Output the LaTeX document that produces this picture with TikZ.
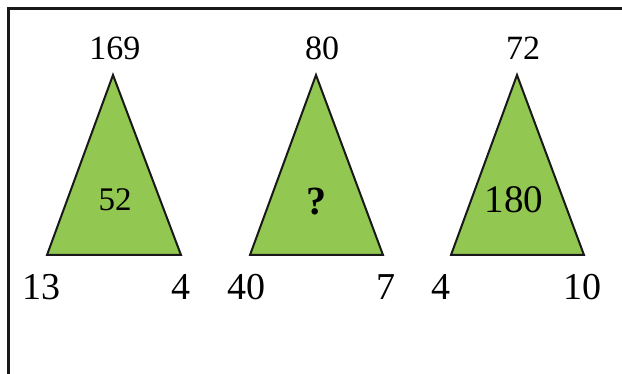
\documentclass[tikz,border=0pt]{standalone}
\usepackage{fontspec}
\setmainfont{Liberation Serif}
\usetikzlibrary{positioning}
\definecolor{leafgreen}{RGB}{146,200,82}

\begin{document}
\begin{tikzpicture}[
    x=0.5pt, y=-0.5pt,
    tri/.style={draw=black!90, line width=1pt, fill=leafgreen, line join=miter},
    topnum/.style={font=\fontsize{17}{20}\selectfont, inner sep=0pt},
    cornernum/.style={font=\fontsize{19}{22}\selectfont, inner sep=0pt},
    midnum/.style={font=\fontsize{16.5}{20}\selectfont, inner sep=0pt}
]
    \useasboundingbox (0,0) rectangle (622,374);
    \draw[line width=1.5pt, black!90] (8,374) -- (8,9) -- (622,9);

    % first triangle
    \filldraw[tri] (113,75) -- (47,255) -- (181,255) -- cycle;
    \node[topnum] (topA) at (115,48) {169};
    \node[cornernum] (leftA) at (42,287) {13};
    \node[cornernum] (rightA) at (181,287) {4};
    \node[midnum] (midA) at (115,200) {52};

    % second triangle
    \filldraw[tri] (316,75) -- (250,255) -- (383,255) -- cycle;
    \node[topnum] (topB) at (322,48) {80};
    \node[cornernum] (leftB) at (246,287) {40};
    \node[cornernum] (rightB) at (386,287) {7};
    \node[midnum, font=\fontsize{20}{22}\selectfont\bfseries] (midB) at (316,202) {?};

    % third triangle
    \filldraw[tri] (517,75) -- (451,255) -- (584,255) -- cycle;
    \node[topnum] (topC) at (523,48) {72};
    \node[cornernum] (leftC) at (441,287) {4};
    \node[cornernum] (rightC) at (582,287) {10};
    \node[midnum, font=\fontsize{19.5}{22}\selectfont] (midC) at (514,200) {180};
\end{tikzpicture}
\end{document}
